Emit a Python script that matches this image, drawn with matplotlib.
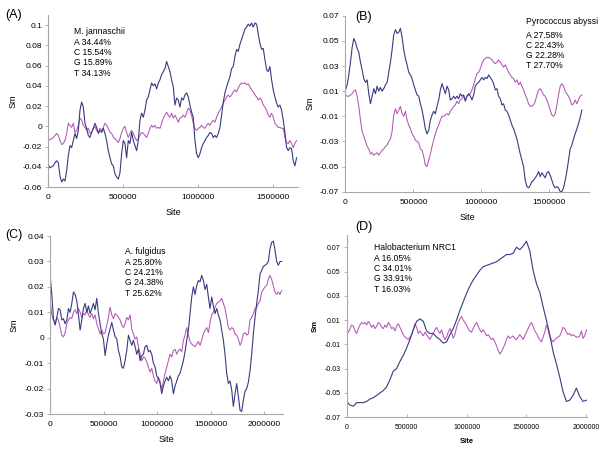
import numpy as np
import matplotlib
matplotlib.use('Agg')
import matplotlib.pyplot as plt

plt.rcParams['font.family'] = ['Liberation Sans', 'DejaVu Sans']

# (A) M. jannaschii, genome ~1.66 Mb
a_blue = [-0.038, -0.041, -0.040, -0.039, -0.036, -0.034, -0.036, -0.049, -0.055, -0.052,
          -0.054, -0.044, -0.029, -0.019, -0.021, -0.014, -0.007, -0.012, -0.004, 0.016,
          0.024, 0.019, 0.003, -0.002, -0.009, -0.011, -0.006, -0.002, 0.003, -0.001,
          -0.007, -0.004, -0.006, -0.002, -0.007, -0.014, -0.024, -0.031, -0.037, -0.039,
          -0.047, -0.050, -0.052, -0.046, -0.027, -0.014, -0.017, -0.031, -0.014, -0.017,
          -0.006, -0.014, -0.019, -0.024, -0.014, 0.006, 0.013, 0.009, 0.016, 0.026,
          0.029, 0.036, 0.043, 0.040, 0.042, 0.037, 0.043, 0.046, 0.051, 0.054,
          0.057, 0.064, 0.059, 0.054, 0.046, 0.039, 0.021, 0.028, 0.026, 0.019,
          0.028, 0.026, 0.031, 0.033, 0.029, 0.021, 0.014, 0.009, -0.014, -0.027,
          -0.031, -0.027, -0.021, -0.017, -0.014, -0.011, -0.009, -0.006, -0.007, -0.011,
          -0.009, -0.011, -0.007, -0.001, 0.011, 0.024, 0.033, 0.039, 0.044, 0.049,
          0.057, 0.059, 0.069, 0.076, 0.074, 0.081, 0.086, 0.091, 0.096, 0.098,
          0.101, 0.099, 0.102, 0.098, 0.102, 0.101, 0.091, 0.082, 0.076, 0.077,
          0.066, 0.056, 0.054, 0.059, 0.046, 0.036, 0.029, 0.023, 0.019, 0.021,
          0.016, 0.006, -0.006, -0.021, -0.024, -0.021, -0.022, -0.034, -0.039, -0.031]
a_pink = [-0.014, -0.013, -0.012, -0.011, -0.009, -0.007, -0.009, -0.014, -0.018, -0.017,
          -0.014, -0.007, 0.003, 0.001, -0.001, 0.003, -0.006, -0.004, 0.001, 0.008,
          0.006, 0.001, -0.001, -0.004, -0.002, -0.007, -0.006, -0.002, 0.000, -0.004,
          -0.006, -0.002, -0.004, -0.001, 0.003, 0.001, -0.002, -0.006, -0.007, -0.011,
          -0.012, -0.014, -0.016, -0.012, -0.006, -0.002, 0.000, -0.006, -0.011, -0.007,
          -0.004, -0.007, -0.011, -0.014, -0.012, -0.009, -0.006, -0.007, -0.009, -0.011,
          -0.007, -0.002, 0.001, -0.001, 0.001, -0.002, -0.001, -0.002, 0.003, 0.008,
          0.011, 0.014, 0.011, 0.009, 0.013, 0.008, 0.011, 0.008, 0.004, 0.008,
          0.009, 0.011, 0.009, 0.013, 0.018, 0.016, 0.011, 0.003, -0.002, -0.004,
          -0.002, -0.001, 0.001, -0.001, -0.002, 0.001, 0.003, 0.001, 0.004, 0.006,
          0.004, 0.009, 0.013, 0.016, 0.019, 0.023, 0.026, 0.029, 0.031, 0.029,
          0.031, 0.034, 0.036, 0.034, 0.038, 0.041, 0.043, 0.042, 0.043, 0.041,
          0.042, 0.039, 0.036, 0.034, 0.031, 0.029, 0.026, 0.028, 0.026, 0.021,
          0.019, 0.016, 0.011, 0.009, 0.013, 0.009, 0.003, 0.001, -0.001, -0.001,
          -0.002, -0.002, -0.011, -0.016, -0.017, -0.014, -0.017, -0.021, -0.017, -0.014]

# (B) Pyrococcus abyssi, ~1.74 Mb
b_blue = [0.011, 0.015, 0.023, 0.033, 0.045, 0.052, 0.049, 0.044, 0.041, 0.033,
          0.027, 0.020, 0.017, 0.019, 0.008, 0.000, 0.006, 0.012, 0.008, 0.014,
          0.010, 0.013, 0.010, 0.012, 0.015, 0.017, 0.025, 0.033, 0.043, 0.055,
          0.059, 0.056, 0.057, 0.060, 0.053, 0.043, 0.036, 0.031, 0.025, 0.023,
          0.020, 0.015, 0.011, 0.007, 0.006, 0.000, -0.005, -0.012, -0.020, -0.024,
          -0.021, -0.013, -0.009, -0.006, -0.008, -0.002, 0.003, 0.011, 0.016, 0.012,
          0.008, 0.014, 0.011, 0.003, 0.004, 0.006, 0.004, 0.006, 0.004, 0.008,
          0.006, 0.007, 0.002, 0.006, 0.008, 0.006, 0.003, 0.007, 0.014, 0.016,
          0.017, 0.019, 0.021, 0.019, 0.021, 0.020, 0.023, 0.021, 0.019, 0.016,
          0.011, 0.012, 0.006, 0.004, -0.001, 0.000, -0.005, -0.006, -0.009, -0.013,
          -0.017, -0.020, -0.024, -0.028, -0.034, -0.040, -0.045, -0.050, -0.061, -0.066,
          -0.067, -0.065, -0.062, -0.061, -0.059, -0.057, -0.054, -0.058, -0.055, -0.057,
          -0.059, -0.055, -0.054, -0.057, -0.061, -0.065, -0.067, -0.066, -0.067, -0.070,
          -0.070, -0.067, -0.061, -0.054, -0.045, -0.036, -0.033, -0.028, -0.024, -0.020,
          -0.016, -0.011, -0.005]
b_pink = [0.007, 0.006, 0.006, 0.007, 0.008, 0.010, 0.011, 0.006, -0.002, -0.013,
          -0.022, -0.026, -0.030, -0.034, -0.036, -0.040, -0.039, -0.041, -0.040, -0.039,
          -0.041, -0.039, -0.037, -0.036, -0.034, -0.033, -0.030, -0.028, -0.022, -0.009,
          -0.004, -0.008, -0.005, -0.002, -0.008, -0.010, -0.006, -0.013, -0.017, -0.020,
          -0.024, -0.026, -0.029, -0.030, -0.031, -0.036, -0.037, -0.042, -0.049, -0.050,
          -0.045, -0.040, -0.034, -0.029, -0.024, -0.020, -0.017, -0.013, -0.010, -0.010,
          -0.009, -0.008, -0.009, -0.006, -0.004, -0.002, -0.001, 0.002, 0.000, 0.003,
          0.004, 0.006, 0.003, 0.006, 0.007, 0.008, 0.011, 0.015, 0.020, 0.024,
          0.025, 0.028, 0.032, 0.035, 0.036, 0.037, 0.037, 0.036, 0.035, 0.033,
          0.032, 0.033, 0.035, 0.033, 0.031, 0.029, 0.031, 0.028, 0.025, 0.023,
          0.021, 0.020, 0.017, 0.019, 0.015, 0.017, 0.014, 0.011, 0.007, 0.004,
          0.000, -0.002, -0.002, -0.001, 0.002, 0.007, 0.011, 0.012, 0.010, 0.007,
          0.006, 0.003, -0.001, -0.005, -0.009, -0.010, -0.008, -0.001, 0.007, 0.014,
          0.016, 0.014, 0.010, 0.008, 0.006, 0.003, -0.001, 0.000, 0.003, 0.000,
          0.003, 0.006, 0.007]

# (C) A. fulgidus, ~2.17 Mb
c_blue = [0.0245, 0.017, 0.0075, 0.005, 0.008, 0.0115, 0.011, 0.007, 0.0075, 0.0055,
          0.007, 0.0115, 0.010, 0.0135, 0.018, 0.017, 0.0145, 0.009, 0.003, 0.007,
          0.0115, 0.0135, 0.010, 0.0125, 0.0095, 0.0115, 0.0135, 0.011, 0.0155, 0.0095,
          0.0055, 0.0015, -0.0005, -0.007, -0.0025, 0.001, 0.0035, 0.006, 0.003, 0.0005,
          -0.0005, -0.005, -0.0075, -0.0115, -0.012, -0.009, -0.005, 0.001, -0.001, -0.003,
          -0.001, -0.0035, -0.0065, -0.0045, -0.009, -0.007, -0.0065, -0.0035, -0.003, -0.0055,
          -0.005, -0.0065, -0.010, -0.0115, -0.015, -0.016, -0.018, -0.022, -0.019, -0.017,
          -0.0155, -0.017, -0.015, -0.017, -0.022, -0.019, -0.017, -0.015, -0.014, -0.0115,
          -0.009, -0.0055, -0.001, 0.003, 0.0095, 0.016, 0.020, 0.017, 0.0205, 0.0225,
          0.022, 0.0245, 0.0225, 0.019, 0.021, 0.016, 0.0115, 0.016, 0.0125, 0.0095,
          0.0115, 0.009, 0.007, 0.003, -0.001, -0.0065, -0.014, -0.018, -0.017, -0.0205,
          -0.027, -0.022, -0.018, -0.023, -0.0285, -0.029, -0.0245, -0.021, -0.020, -0.0175,
          -0.013, -0.0065, 0.0015, 0.008, 0.0135, 0.0185, 0.025, 0.0265, 0.028, 0.0285,
          0.029, 0.030, 0.035, 0.0375, 0.038, 0.0345, 0.030, 0.0285, 0.030, 0.030]
c_pink = [0.0145, 0.009, 0.007, 0.0055, 0.008, 0.007, 0.004, 0.001, 0.0003, 0.002,
          0.0055, 0.007, 0.008, 0.0075, 0.010, 0.011, 0.0095, 0.0115, 0.010, 0.008,
          0.0095, 0.009, 0.011, 0.009, 0.008, 0.0095, 0.0075, 0.009, 0.0055, 0.0035,
          0.0015, 0.003, 0.0015, 0.002, 0.005, 0.008, 0.012, 0.009, 0.0075, 0.0095,
          0.009, 0.008, 0.007, 0.005, 0.004, 0.0055, 0.008, 0.007, 0.009, 0.0035,
          0.0015, -0.0005, 0.0003, -0.0035, -0.0065, -0.009, -0.0075, -0.008, -0.0095, -0.0115,
          -0.0135, -0.012, -0.015, -0.017, -0.018, -0.0155, -0.017, -0.0205, -0.017, -0.014,
          -0.0115, -0.009, -0.0065, -0.0075, -0.005, -0.0045, -0.0065, -0.005, -0.0045, -0.0055,
          -0.001, 0.001, 0.004, 0.001, -0.0015, -0.0025, -0.003, -0.0035, -0.0025, -0.0015,
          -0.003, -0.001, 0.0015, 0.003, 0.004, 0.002, 0.006, 0.009, 0.010, 0.012,
          0.0135, 0.014, 0.0145, 0.0155, 0.0135, 0.0115, 0.008, 0.004, 0.003, 0.004,
          0.0035, 0.0015, 0.001, -0.0005, -0.003, -0.0015, 0.0015, 0.002, 0.001, 0.0015,
          0.007, 0.008, 0.0095, 0.0115, 0.012, 0.0135, 0.0145, 0.018, 0.019, 0.020,
          0.0205, 0.023, 0.0245, 0.023, 0.0205, 0.018, 0.017, 0.018, 0.017, 0.0185]

# (D) Halobacterium NRC1, ~2.0 Mb
d_blue = [-0.057, -0.060, -0.061, -0.058, -0.058, -0.058, -0.057, -0.055, -0.054, -0.052,
          -0.050, -0.048, -0.045, -0.039, -0.032, -0.030, -0.024, -0.019, -0.013, -0.006,
          0.002, 0.009, 0.011, 0.009, 0.001, -0.001, -0.001, -0.004, -0.006, -0.009,
          -0.008, -0.002, 0.003, 0.010, 0.018, 0.025, 0.032, 0.038, 0.043, 0.047,
          0.051, 0.054, 0.055, 0.056, 0.057, 0.058, 0.060, 0.062, 0.064, 0.064,
          0.065, 0.070, 0.068, 0.071, 0.075, 0.067, 0.051, 0.040, 0.033, 0.021,
          0.010, -0.002, -0.016, -0.026, -0.037, -0.049, -0.057, -0.056, -0.052, -0.046,
          -0.053, -0.057, -0.056]
d_pink = [0.002, 0.000, 0.003, 0.006, 0.005, 0.001, -0.001, 0.003, 0.006, 0.008,
          0.007, 0.008, 0.006, 0.009, 0.007, 0.004, 0.006, 0.003, 0.005, 0.008,
          0.007, 0.004, 0.003, 0.006, 0.004, 0.008, 0.006, 0.003, 0.004, 0.001,
          0.005, 0.007, 0.004, 0.001, -0.002, -0.004, -0.005, -0.006, -0.004, -0.002,
          0.002, 0.007, 0.004, -0.001, 0.001, -0.001, -0.003, 0.000, -0.002, -0.004,
          -0.006, -0.003, -0.001, 0.002, 0.004, 0.001, -0.001, 0.002, -0.003, -0.006,
          -0.004, 0.000, 0.003, 0.000, -0.005, -0.002, 0.004, 0.008, 0.011, 0.013,
          0.010, 0.008, 0.006, 0.003, 0.001, 0.000, 0.003, 0.006, 0.008, 0.005,
          0.002, 0.000, 0.002, 0.000, -0.003, -0.002, -0.004, -0.006, -0.005, -0.008,
          -0.011, -0.015, -0.018, -0.016, -0.013, -0.010, -0.006, -0.003, -0.005, -0.004,
          -0.003, -0.005, -0.006, -0.004, -0.002, -0.004, -0.006, -0.003, 0.000, 0.003,
          0.006, 0.008, 0.005, 0.001, -0.001, -0.004, -0.006, -0.008, -0.004, 0.000,
          0.006, 0.002, -0.004, -0.006, -0.008, -0.006, -0.005, -0.004, -0.003, 0.000,
          0.004, 0.003, 0.000, -0.002, -0.001, -0.003, -0.002, -0.003, -0.004, -0.004,
          -0.003, 0.001, -0.005, -0.003, 0.002]

blue = '#3a3a80'
pink = '#b456b4'
axis_grey = '#a8a8a8'

fig = plt.figure(figsize=(6.04, 4.53), dpi=100)

panels = [
    # rect, blue, pink, end site, xmax, ylim, yticks, xticks, tick size, info lines, info pos, gap
    ([0.080, 0.587, 0.414, 0.380], a_blue, a_pink, 1.655e6, 1.667e6, (-0.06, 0.11),
     [-0.06, -0.04, -0.02, 0, 0.02, 0.04, 0.06, 0.08, 0.1], [0, 500000, 1000000, 1500000], 6,
     ['M. jannaschii', 'A 34.44%', 'C 15.54%', 'G 15.89%', 'T 34.13%'], (74, 32), 0),
    ([0.572, 0.577, 0.403, 0.388], b_blue, b_pink, 1.740e6, 1.792e6, (-0.07, 0.07),
     [-0.07, -0.05, -0.03, -0.01, 0.01, 0.03, 0.05, 0.07], [0, 500000, 1000000, 1500000], 6,
     ['Pyrococcus abyssi', 'A 27.58%', 'C 22.43%', 'G 22.28%', 'T 27.70%'], (526, 21), 3.7),
    ([0.083, 0.086, 0.386, 0.393], c_blue, c_pink, 2.165e6, 2.18e6, (-0.03, 0.04),
     [-0.03, -0.02, -0.01, 0, 0.01, 0.02, 0.03, 0.04], [0, 500000, 1000000, 1500000, 2000000], 6,
     ['A. fulgidus', 'A 25.80%', 'C 24.21%', 'G 24.38%', 'T 25.62%'], (125, 252), 0),
    ([0.574, 0.079, 0.398, 0.402], d_blue, d_pink, 2.0e6, 2.006e6, (-0.07, 0.08),
     [-0.07, -0.05, -0.03, -0.01, 0.01, 0.03, 0.05, 0.07], [0, 500000, 1000000, 1500000, 2000000], 5,
     ['Halobacterium NRC1', 'A 16.05%', 'C 34.01%', 'G 33.91%', 'T 16.03%'], (374, 248), 0),
]

for rect, yb, yp, end, xmax, ylim, yticks, xticks, fs, info, tpos, gap in panels:
    ax = fig.add_axes(rect)
    ax.plot(np.linspace(0, end, len(yp)), yp, color=pink, lw=0.75)
    ax.plot(np.linspace(0, end, len(yb)), yb, color=blue, lw=0.8)
    ax.set_xlim(0, xmax)
    ax.set_ylim(*ylim)
    ax.set_yticks(yticks)
    ax.set_yticklabels([('%g' % t) for t in yticks], fontsize=fs)
    ax.set_xticks(xticks)
    ax.set_xticklabels([str(t) for t in xticks], fontsize=fs)
    for s in ['top', 'right']:
        ax.spines[s].set_visible(False)
    for s in ['left', 'bottom']:
        ax.spines[s].set_color(axis_grey)
        ax.spines[s].set_linewidth(0.8)
    ax.tick_params(axis='y', length=2.5, width=0.6, color=axis_grey, pad=2)
    ax.tick_params(axis='x', direction='in', length=2, width=0.6, color=axis_grey, pad=5)
    small = fs < 6
    ax.set_xlabel('Site', fontsize=5.5 if small else 6.5, labelpad=5,
                  fontweight='bold' if small else 'normal')
    ax.set_ylabel('Sm', fontsize=5.5 if small else 6.5, labelpad=4,
                  fontweight='bold' if small else 'normal')
    ax.patch.set_alpha(0)

    # composition block, placed in pixels from the top-left
    for i, line in enumerate(info):
        yy = tpos[1] + i * 10.3 + (gap if i > 0 else 0)
        fig.text(tpos[0] / 604, 1 - yy / 453, line, fontsize=6.2, va='center', ha='left')

fig.text(5 / 604, 1 - 15 / 453, '(A)', fontsize=9, va='center')
fig.text(355 / 604, 1 - 17 / 453, '(B)', fontsize=9, va='center')
fig.text(5 / 604, 1 - 235 / 453, '(C)', fontsize=9, va='center')
fig.text(355 / 604, 1 - 227 / 453, '(D)', fontsize=9, va='center')

fig.savefig('out.png', dpi=100)
